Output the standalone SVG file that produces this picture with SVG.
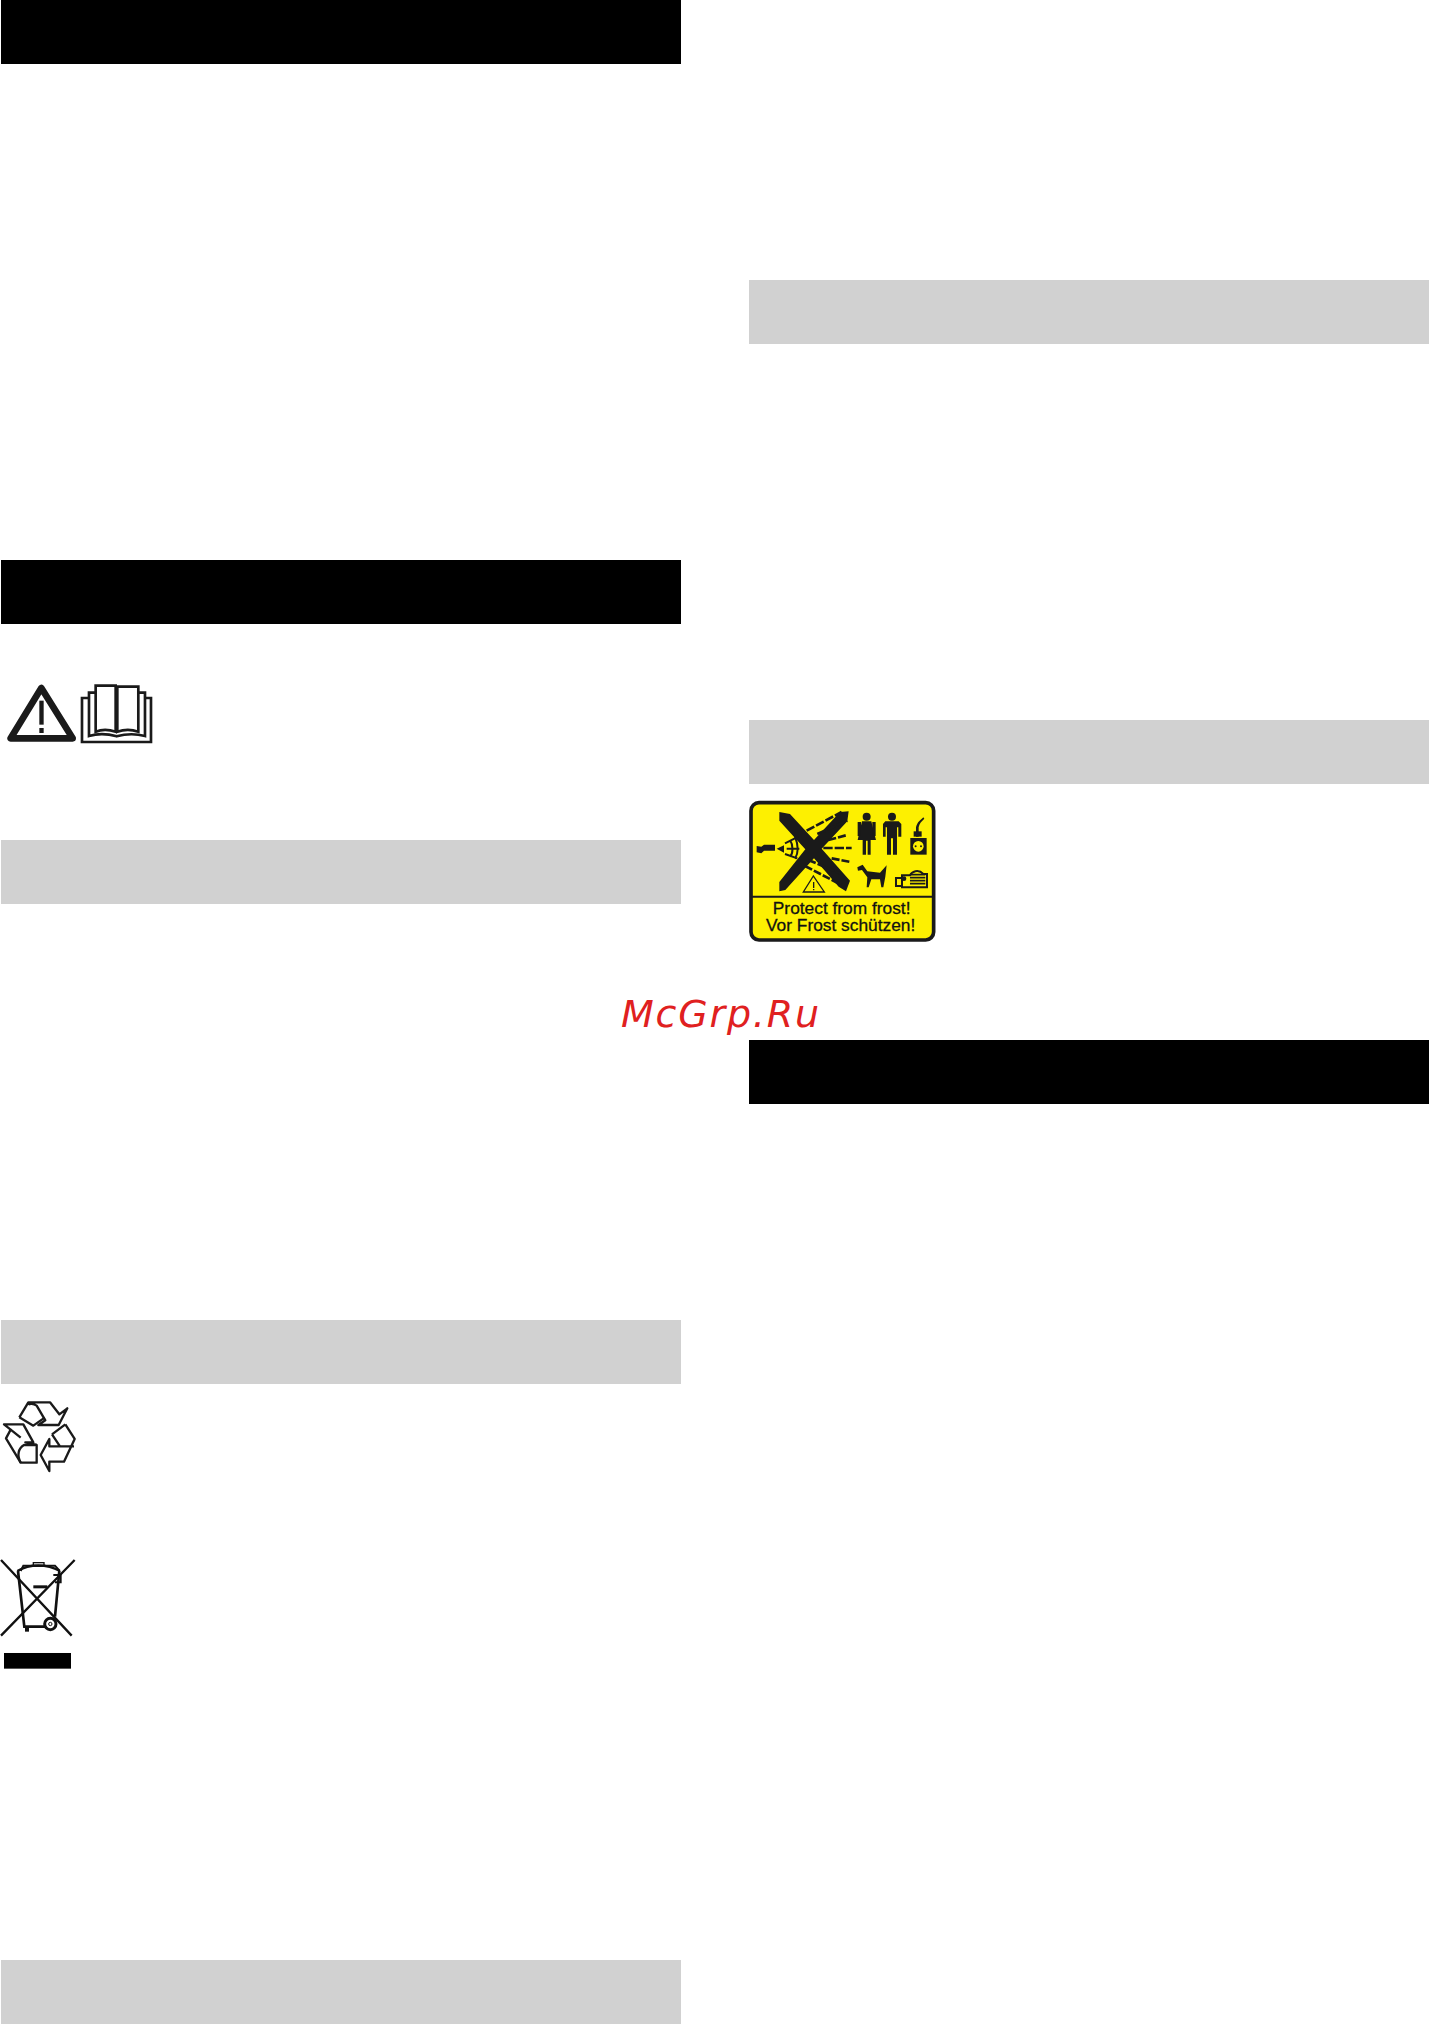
<svg xmlns="http://www.w3.org/2000/svg" width="1429" height="2024" viewBox="0 0 1429 2024">
<style>
.k{fill:#000}.g{fill:#d1d1d1}
.sg{font-family:"Liberation Sans",Arial,sans-serif;fill:#111;stroke:#111;stroke-width:.9}
</style>
<rect width="1429" height="2024" fill="#fff"/>
<g id="bars">
<rect class="k" x="1" y="0" width="680" height="64"/>
<rect class="k" x="1" y="560" width="680" height="64"/>
<rect class="g" x="1" y="840" width="680" height="64"/>
<rect class="g" x="1" y="1320" width="680" height="64"/>
<rect class="g" x="1" y="1960" width="680" height="64"/>
<rect class="g" x="749" y="280" width="680" height="64"/>
<rect class="g" x="749" y="720" width="680" height="64"/>
<rect class="k" x="749" y="1040" width="680" height="64"/>
</g>
<g id="warning-icons" transform="translate(0,670) scale(.3333)">
<path d="M124 54L32 205H218Z" fill="none" stroke="#1a1a1a" stroke-width="20" stroke-linejoin="round"/>
<rect x="118" y="92" width="13" height="72" fill="#1a1a1a"/><rect x="118" y="174" width="13" height="15" fill="#1a1a1a"/>
<g fill="none" stroke="#1a1a1a" stroke-width="8">
<path d="M287 47H347V185C325 178 305 178 287 185Z"/>
<path d="M352 185V50H415V185C395 178 372 178 352 185Z"/>
<path d="M287 68H267V198C295 190 325 192 350 199C375 192 405 190 435 198V68H415"/>
<path d="M267 84H246V216H453V84H435"/>
</g>
</g>
<g id="recycle-icon" transform="translate(0,1385) scale(.3333)" fill="none" stroke="#1a1a1a" stroke-width="7" stroke-linejoin="round">
<path d="M58 97L85 52H150L178 88L202 70L176 120H115L136 106L110 62C100 55 88 55 85 60"/>
<path d="M58 97L100 122L134 98"/>
<path d="M12 118H70L100 172H76L110 180V233H62L18 160L32 134Z"/>
<path d="M62 233C50 210 55 190 72 180H110M32 134L62 158"/>
<path d="M196 118L224 162L192 230H148V258L122 210L148 162V184H222M156 148L196 118M156 148L180 184"/>
</g>
<g id="weee-icon" transform="translate(0,1545) scale(.3333)" fill="none" stroke="#111">
<path d="M3 45L215 272M224 45L3 272" stroke-width="7"/>
<path d="M54 78L73 245H135M178 78L165 215" stroke-width="8"/>
<path d="M52 78C90 56 140 56 180 78" stroke-width="7"/>
<path d="M62 78L70 62H165L178 76" stroke-width="6"/>
<rect x="100" y="53" width="32" height="11" stroke-width="4"/>
<path d="M160 90H182V112H165" stroke-width="6"/>
<rect x="100" y="121" width="42" height="9" fill="#111" stroke="none"/>
<circle cx="151" cy="237" r="17" stroke-width="9"/>
<circle cx="151" cy="237" r="5" stroke-width="3"/>
<rect x="75" y="245" width="12" height="15" fill="#111" stroke="none"/>
<rect x="12" y="324" width="201" height="47" fill="#000" stroke="none"/>
</g>
<g id="frost-sign" transform="translate(740,790) scale(.3333)">
<rect x="33" y="38" width="548" height="412" rx="24" fill="#fdf001" stroke="#1a1a1a" stroke-width="11"/>
<path d="M36 320H578" stroke="#1a1a1a" stroke-width="6"/>
<path d="M118 66L150 72L222 150L300 66L326 64L322 94L245 176L330 272L318 304L296 290L222 205L136 300L118 304L118 276L196 178L118 92Z" fill="#1a1a1a"/>
<path d="M50 168L64 170L72 164H105V182H72L64 190L50 187Z" fill="#1a1a1a"/>
<path d="M110 176L132 166V188Z" fill="#1a1a1a"/>
<g fill="none" stroke="#1a1a1a" stroke-width="8">
<path d="M200 122L305 66" stroke-dasharray="26 6"/>
<path d="M232 132L322 92" stroke-dasharray="26 6"/>
<path d="M265 150L318 136" stroke-dasharray="24 6"/>
<path d="M250 174H335" stroke-dasharray="28 6"/>
<path d="M275 205L332 216" stroke-dasharray="24 6"/>
<path d="M205 210L300 250" stroke-dasharray="24 6"/>
<path d="M195 228L305 285" stroke-dasharray="24 6"/>
<path d="M135 160L175 140M140 176H178M135 192L172 205M150 150C160 165 160 190 150 200M165 140C175 165 175 190 165 206" stroke-width="6"/>
</g>
<path d="M220 258L190 306H253Z" fill="none" stroke="#1a1a1a" stroke-width="4"/>
<path d="M219 276H223V294H219ZM219 297H223V301H219Z" fill="#1a1a1a"/>
<g fill="#1a1a1a">
<circle cx="380" cy="80" r="12"/>
<path d="M366 94H394L408 150H392V194H383V152H378V194H368V150H353Z"/>
<rect x="353" y="96" width="10" height="42"/><rect x="397" y="96" width="10" height="42"/>
<circle cx="456" cy="80" r="12"/>
<path d="M436 94H476L484 102V140H475V112H471V194H459V145H453V194H441V112H437V140H429V102Z"/>
<path d="M352 232L368 224L382 244L420 248L440 226L436 260L430 292H424L420 268H394L386 292H380L382 262L366 240L354 242Z"/>
<path d="M511 144H560V194H511Z"/>
<circle cx="535" cy="169" r="16" fill="#fdf001"/>
<path d="M528 140V112C532 96 540 92 550 82L553 86C545 94 538 100 536 112V140Z"/>
<path d="M521 140V124H545V140Z"/>
<circle cx="527" cy="169" r="3"/><circle cx="543" cy="169" r="3"/>
<path d="M468 264H486V288H468ZM486 256H510C515 245 535 236 550 252H561V292H486Z" fill="none" stroke="#1a1a1a" stroke-width="6"/>
<circle cx="492" cy="266" r="7"/>
<path d="M510 254H556M510 263H556M510 272H556M510 281H556" stroke="#1a1a1a" stroke-width="5"/>
</g>
<text class="sg" x="305" y="371" font-size="52" text-anchor="middle">Protect from frost!</text>
<text class="sg" x="302" y="424" font-size="52" text-anchor="middle">Vor Frost schützen!</text>
</g>
<g id="watermark">
<text x="621" y="1027" font-family="DejaVu Sans,sans-serif" font-size="38" font-style="italic" letter-spacing="1.8" fill="#e02020">McGrp.Ru</text>
</g>
</svg>
